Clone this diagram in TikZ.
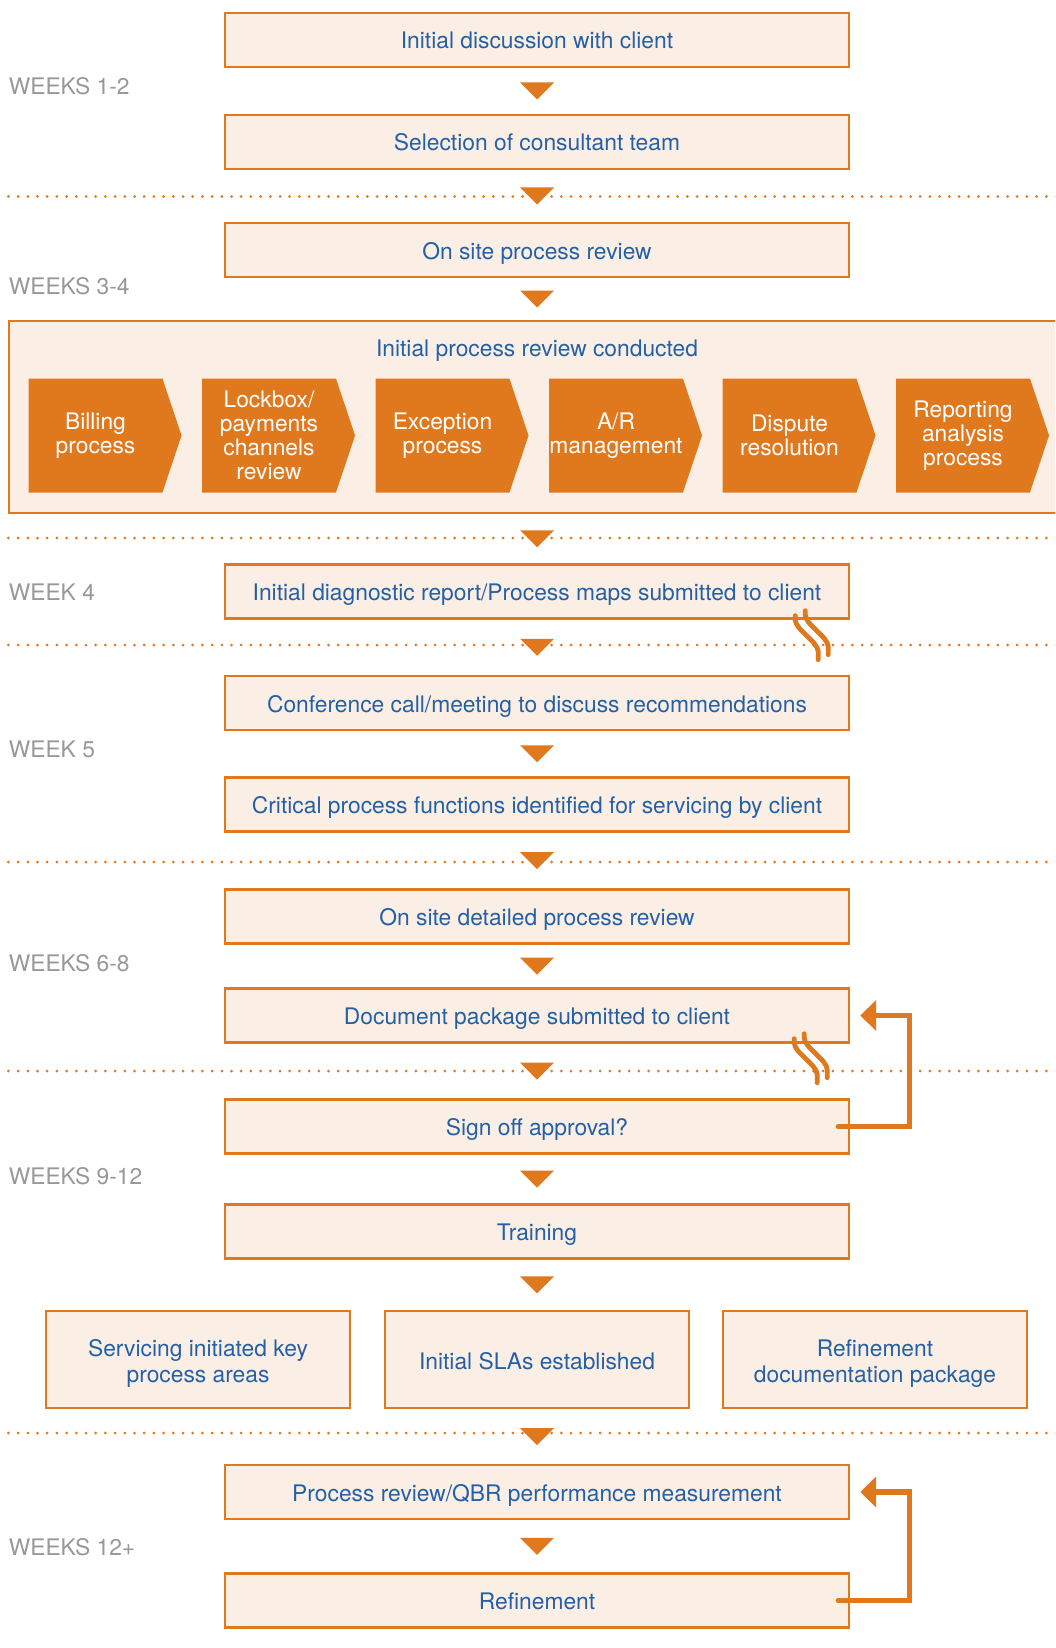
\documentclass[tikz,border=0pt]{standalone}
\usepackage{fontspec}
\setmainfont{TeX Gyre Heros}
\usetikzlibrary{arrows.meta,shapes.symbols,calc}

\definecolor{procorange}{RGB}{224,121,30}
\definecolor{procfill}{RGB}{251,239,229}
\definecolor{procblue}{RGB}{36,96,166}
\definecolor{weekgray}{RGB}{152,152,152}

\tikzset{
  procbox/.style={draw=procorange, fill=procfill, line width=1.2pt, text=procblue,
    inner sep=0pt, font=\fontsize{11.4}{12}\selectfont},
  stepbox/.style={procbox, minimum width=312pt, minimum height=27pt,
    text height=11.4pt, text depth=2.4pt},
  smallbox/.style={procbox, minimum width=152pt, minimum height=48.5pt, align=center,
    font=\fontsize{11.4}{13}\selectfont},
  chev/.style={shape=signal, signal to=east, signal pointer angle=143, fill=procorange,
    text=white, minimum width=76.5pt, minimum height=57pt, inner sep=0pt, align=center,
    font=\fontsize{11.4}{12}\selectfont},
  week/.style={anchor=west, text=weekgray, inner sep=0pt, font=\fontsize{11.4}{12}\selectfont},
  phase/.style={procorange, line width=1.5pt, line cap=round, dash pattern=on 0pt off 4.85pt},
  loopback/.style={procorange, line width=2.6pt, line cap=round,
    -{Triangle[length=8pt,width=15pt]}},
  breakline/.style={procorange, line width=2.4pt, line cap=round},
  brk/.pic={
    \draw[breakline] (0,0) -- (0,4) .. controls (0,14) and (23,26) .. (23,36) -- (23,44);
    \draw[breakline] (10,-5) -- (10,-1) .. controls (10,9) and (33,21) .. (33,31) -- (33,39);
  }
}

\begin{document}
\begin{tikzpicture}[x=0.5pt, y=-0.5pt]
  \useasboundingbox (0,0) rectangle (1055,1648);
  \clip (0,0) rectangle (1055,1648);
  \fill[white] (0,0) rectangle (1055,1648);

  % phase separators
  \foreach \y in {196.5, 538, 645, 862, 1071, 1433}
    \draw[phase] (8.4,\y) -- (1060,\y);

  % week labels
  \node[week] (wk12) at (8.4,86) {WEEKS 1-2};
  \node[week] (wk34) at (8.4,286) {WEEKS 3-4};
  \node[week] (wk4) at (8.4,592.5) {WEEK 4};
  \node[week] (wk5) at (8.4,749) {WEEK 5};
  \node[week] (wk68) at (8.4,963.5) {WEEKS 6-8};
  \node[week] (wk912) at (8.4,1176) {WEEKS 9-12};
  \node[week] (wk12p) at (8.4,1547) {WEEKS 12+};

  % main flow
  \node[stepbox] (init) at (537,40) {Initial discussion with client};
  \node[stepbox] (team) at (537,142) {Selection of consultant team};
  \node[stepbox] (onsite) at (537,250) {On site process review};
  \node[procbox, minimum width=528pt, minimum height=96pt] (review) at (537,417) {};
  \node[text=procblue, font=\fontsize{11.4}{12}\selectfont] (reviewtitle) at (537,351) {Initial process review conducted};
  \foreach \t [count=\i from 0] in {{Billing\\process}, {Lockbox/\\payments\\channels\\review},
      {Exception\\process}, {A/R\\management}, {Dispute\\resolution}, {Reporting\\analysis\\process}}
    \node[chev] (chev\i) at (95.5+173.5*\i,435.5) {\t};
  \node[stepbox] (diag) at (537,591.5) {Initial diagnostic report/Process maps submitted to client};
  \node[stepbox] (conf) at (537,703) {Conference call/meeting to discuss recommendations};
  \node[stepbox] (crit) at (537,804.5) {Critical process functions identified for servicing by client};
  \node[stepbox] (detail) at (537,916.5) {On site detailed process review};
  \node[stepbox] (docpkg) at (537,1015.5) {Document package submitted to client};
  \node[stepbox] (signoff) at (537,1126.5) {Sign off approval?};
  \node[stepbox] (training) at (537,1231.5) {Training};
  \node[smallbox] (servicing) at (198,1359.5) {\rule{0pt}{12.5pt}Servicing initiated key\\process areas};
  \node[smallbox] (sla) at (537,1359.5) {\rule{0pt}{10.3pt}Initial SLAs established};
  \node[smallbox] (docref) at (875,1359.5) {\rule{0pt}{12.5pt}Refinement\\documentation package};
  \node[stepbox] (qbr) at (537,1492) {Process review/QBR performance measurement};
  \node[stepbox] (refine) at (537,1600.5) {Refinement};

  % arrows between steps
  \foreach \a/\b in {init/team, team/onsite, onsite/review, review/diag, diag/conf, conf/crit,
      crit/detail, detail/docpkg, docpkg/signoff, signoff/training, training/sla, sla/qbr, qbr/refine}
    \fill[procorange] ($(\a.south)!.5!(\b.north)$) +(-17,-8.5) -- +(17,-8.5) -- +(0,8.5) -- cycle;

  % break marks
  \pic at ($(diag.south east)+(-55,-4)$) {brk};
  \pic at ($(docpkg.south east)+(-56,-5)$) {brk};

  % loop backs
  \draw[loopback] ($(signoff.east)+(-12,0)$) -- ++(71,0) |- ($(docpkg.east)+(10,0)$);
  \draw[loopback] ($(refine.east)+(-12,0)$) -- ++(71,0) |- ($(qbr.east)+(10,0)$);
\end{tikzpicture}
\end{document}
